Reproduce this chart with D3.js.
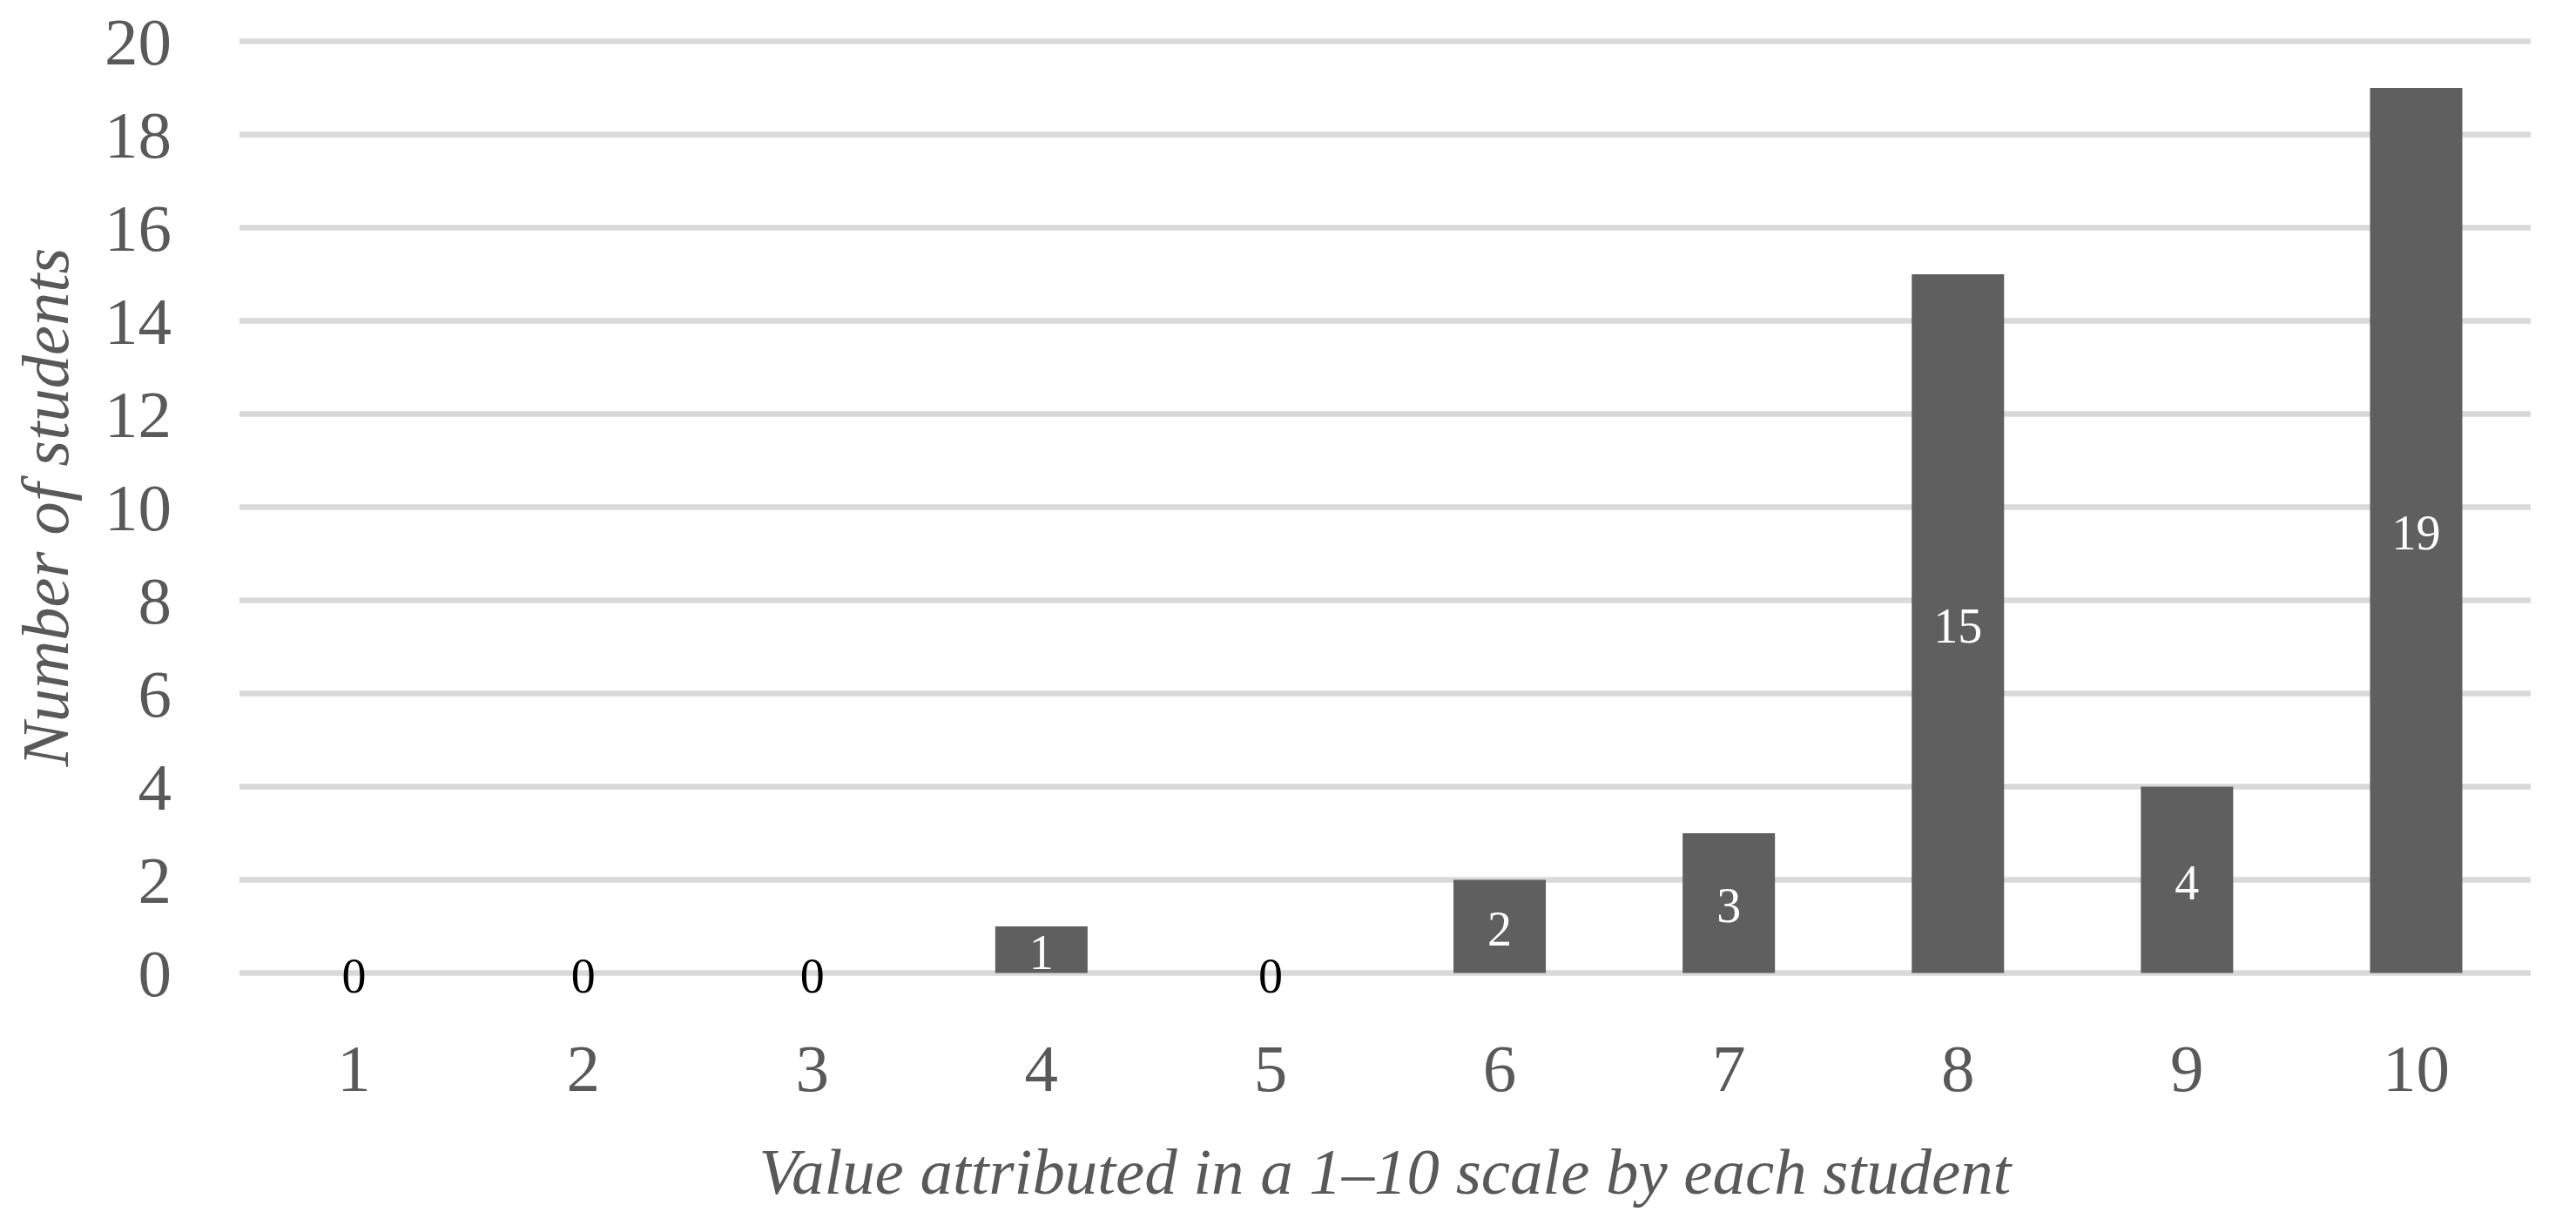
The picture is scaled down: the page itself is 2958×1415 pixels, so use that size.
<!DOCTYPE html>
<html><head><meta charset="utf-8">
<script src="https://cdn.jsdelivr.net/npm/d3@7"></script>
<style>html,body{margin:0;padding:0;background:#fff;}</style>
</head><body>
<svg id="chart" width="2958" height="1415"></svg>
<script>
const categories = ["1","2","3","4","5","6","7","8","9","10"];
const values = [0,0,0,1,0,2,3,15,4,19];
const yTicks = [0,2,4,6,8,10,12,14,16,18,20];
const xTitle = "Value attributed in a 1–10 scale by each student";
const yTitle = "Number of students";

const plotLeft = 275, plotRight = 2906, plotTop = 47.5, plotBottom = 1117.5;
const font = "'Liberation Serif', 'DejaVu Serif', serif";
const svg = d3.select("#chart");

const x = d3.scaleBand().domain(categories).range([plotLeft, plotRight]).paddingInner(0.597).paddingOuter(0.2985);
const y = d3.scaleLinear().domain([0, 20]).range([plotBottom, plotTop]);

// gridlines
svg.append("g").selectAll("line").data(yTicks).join("line")
  .attr("x1", plotLeft).attr("x2", plotRight)
  .attr("y1", d => y(d)).attr("y2", d => y(d))
  .attr("stroke", "#d9d9d9").attr("stroke-width", 6.5);

// y tick labels
svg.append("g").selectAll("text").data(yTicks).join("text")
  .attr("x", 197).attr("y", d => y(d) + 26)
  .attr("text-anchor", "end")
  .attr("font-family", font).attr("font-size", 77).attr("fill", "#595959")
  .text(d => d);

// bars
svg.append("g").selectAll("rect").data(values).join("rect")
  .attr("x", (d,i) => x(categories[i]))
  .attr("width", x.bandwidth())
  .attr("y", d => y(d))
  .attr("height", d => y(0) - y(d))
  .attr("fill", "#5f5f5f");

// data labels
svg.append("g").selectAll("text").data(values).join("text")
  .attr("x", (d,i) => x(categories[i]) + x.bandwidth()/2)
  .attr("y", d => (y(d) + y(0))/2 + 22)
  .attr("text-anchor", "middle")
  .attr("font-family", font).attr("font-size", 56)
  .attr("fill", d => d === 0 ? "#000" : "#fff")
  .text(d => d);

// x tick labels
svg.append("g").selectAll("text").data(categories).join("text")
  .attr("x", d => x(d) + x.bandwidth()/2)
  .attr("y", 1253)
  .attr("text-anchor", "middle")
  .attr("font-family", font).attr("font-size", 77).attr("fill", "#595959")
  .text(d => d);

// axis titles
function fit(sel, target) {
  const fs = +sel.attr("font-size");
  const w = sel.node().getComputedTextLength();
  if (w > 0) sel.attr("font-size", fs * target / w);
}
const xt = svg.append("text")
  .attr("x", (plotLeft+plotRight)/2).attr("y", 1371)
  .attr("text-anchor", "middle")
  .attr("font-family", font).attr("font-style", "italic").attr("font-size", 72)
  .attr("fill", "#595959").text(xTitle);
fit(xt, 1438);

const yt = svg.append("text")
  .attr("transform", `translate(78, ${(plotTop+plotBottom)/2}) rotate(-90)`)
  .attr("text-anchor", "middle")
  .attr("font-family", font).attr("font-style", "italic").attr("font-size", 72)
  .attr("fill", "#595959").text(yTitle);
fit(yt, 596);
</script>
</body></html>
